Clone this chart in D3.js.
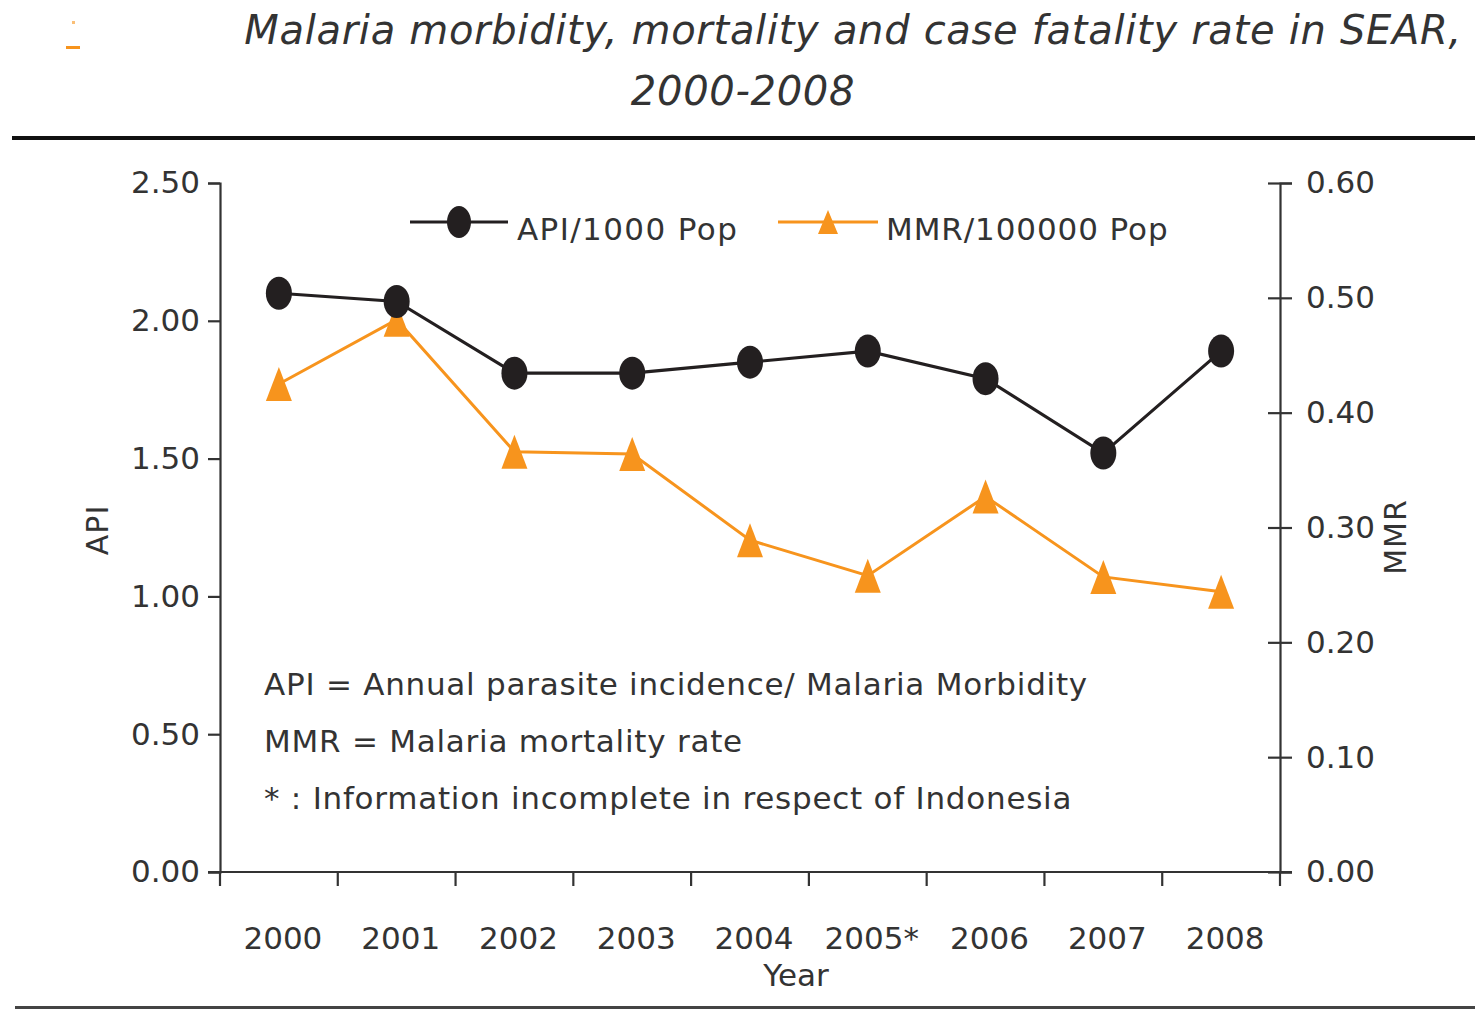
<!DOCTYPE html>
<html><head><meta charset="utf-8">
<script src="https://cdn.jsdelivr.net/npm/d3@7"></script>
<style>
html,body{margin:0;padding:0;background:#fff;}
svg{display:block;font-family:"DejaVu Sans",Verdana,sans-serif;}
</style></head>
<body>
<script>
// ---- data ----
const years = ["2000","2001","2002","2003","2004","2005*","2006","2007","2008"];
const apiValues = [2.10, 2.07, 1.81, 1.81, 1.85, 1.89, 1.79, 1.52, 1.89];
const mmrValues = [0.425, 0.481, 0.366, 0.364, 0.289, 0.258, 0.327, 0.257, 0.244];
const apiTicks = [0, 0.5, 1.0, 1.5, 2.0, 2.5];
const mmrTicks = [0, 0.1, 0.2, 0.3, 0.4, 0.5, 0.6];
const titleLines = ["Malaria morbidity, mortality and case fatality rate in SEAR,", "2000-2008"];
const notes = ["API = Annual parasite incidence/ Malaria Morbidity", "MMR = Malaria mortality rate", "* : Information incomplete in respect of Indonesia"];
const seriesNames = ["API/1000 Pop", "MMR/100000 Pop"];

const W = 1480, H = 1011;
const BLACK = "#231f20", ORANGE = "#f7941d", TEXT = "#333333";
const svg = d3.select("body").append("svg").attr("width", W).attr("height", H);

const L = 220, R = 1280, T = 183, B = 872;
const x = d3.scaleBand().domain(years).range([L, R]);
const xc = d => x(d) + x.bandwidth() / 2;
const yL = d3.scaleLinear().domain([0, 2.5]).range([B, T]);
const yR = d3.scaleLinear().domain([0, 0.6]).range([B, T]);

// stray orange marks top-left
svg.append("rect").attr("x", 66).attr("y", 46).attr("width", 14).attr("height", 3).attr("fill", ORANGE);
svg.append("rect").attr("x", 72).attr("y", 21).attr("width", 3).attr("height", 3).attr("fill", ORANGE).attr("opacity", 0.6);

// title
svg.append("text").attr("x", 1462).attr("y", 44).attr("text-anchor", "end")
  .attr("font-style", "italic").attr("font-size", 40).attr("letter-spacing", 0.7).attr("fill", TEXT).text(titleLines[0]);
svg.append("text").attr("x", 743).attr("y", 105).attr("text-anchor", "middle")
  .attr("font-style", "italic").attr("font-size", 40).attr("letter-spacing", 0.7).attr("fill", TEXT).text(titleLines[1]);

// rules
svg.append("rect").attr("x", 12).attr("y", 136).attr("width", 1463).attr("height", 4).attr("fill", "#111");
svg.append("rect").attr("x", 15).attr("y", 1006).attr("width", 1460).attr("height", 3).attr("fill", "#444");

// axes
const axL = svg.append("g").attr("transform", `translate(${L},0)`)
  .call(d3.axisLeft(yL).tickValues(apiTicks).tickFormat(d3.format(".2f")).tickSize(12).tickPadding(8));
const axR = svg.append("g").attr("transform", `translate(${R},0)`)
  .call(d3.axisRight(yR).tickValues(mmrTicks).tickFormat(d3.format(".2f")).tickSize(12).tickPadding(14));
axR.selectAll(".tick line").attr("x1", -12);
const axB = svg.append("g").attr("transform", `translate(0,${B})`)
  .call(d3.axisBottom(x).tickSize(0).tickPadding(55));
// boundary ticks on x axis
const bounds = years.map(d => x(d)).concat([R]);
axB.selectAll(".bt").data(bounds).enter().append("line").attr("class", "bt")
  .attr("x1", d => d).attr("x2", d => d).attr("y1", 0).attr("y2", 14);
axB.select(".domain").attr("d", `M${L - 12},0H${R + 12}`);

[axL, axR, axB].forEach(g => {
  g.selectAll("path,line").attr("stroke", "#333").attr("stroke-width", 2.2);
  g.selectAll("text").attr("font-size", 31).attr("fill", TEXT).attr("font-family", '"DejaVu Sans",Verdana,sans-serif');
});
axB.selectAll(".tick text").attr("dx", 4);

// axis titles
svg.append("text").attr("transform", "translate(108,530) rotate(-90)").attr("text-anchor", "middle")
  .attr("font-size", 30).attr("letter-spacing", 1).attr("fill", TEXT).text("API");
svg.append("text").attr("transform", "translate(1406,537) rotate(-90)").attr("text-anchor", "middle")
  .attr("font-size", 30).attr("letter-spacing", 1).attr("fill", TEXT).text("MMR");
svg.append("text").attr("x", 796).attr("y", 986).attr("text-anchor", "middle")
  .attr("font-size", 31).attr("fill", TEXT).text("Year");

// lines
const lineL = d3.line().x((d, i) => xc(years[i])).y(d => yL(d));
const lineR = d3.line().x((d, i) => xc(years[i])).y(d => yR(d));
svg.append("path").attr("d", lineR(mmrValues)).attr("fill", "none").attr("stroke", ORANGE).attr("stroke-width", 3);
svg.append("path").attr("d", lineL(apiValues)).attr("fill", "none").attr("stroke", BLACK).attr("stroke-width", 3.2);

const tri = "M0,-17L13,17L-13,17Z";
svg.selectAll(".tri").data(mmrValues).enter().append("path").attr("class", "tri")
  .attr("d", tri).attr("transform", (d, i) => `translate(${xc(years[i])},${yR(d)})`).attr("fill", ORANGE);
svg.selectAll(".dot").data(apiValues).enter().append("ellipse").attr("class", "dot")
  .attr("cx", (d, i) => xc(years[i])).attr("cy", d => yL(d)).attr("rx", 13).attr("ry", 16.5).attr("fill", BLACK);

// legend
const lg = svg.append("g");
lg.append("line").attr("x1", 410).attr("x2", 508).attr("y1", 222).attr("y2", 222).attr("stroke", BLACK).attr("stroke-width", 3.2);
lg.append("ellipse").attr("cx", 459).attr("cy", 222).attr("rx", 12).attr("ry", 16).attr("fill", BLACK);
lg.append("text").attr("x", 517).attr("y", 240).attr("font-size", 31).attr("letter-spacing", 1.4).attr("fill", TEXT).text(seriesNames[0]);
lg.append("line").attr("x1", 778).attr("x2", 878).attr("y1", 222).attr("y2", 222).attr("stroke", ORANGE).attr("stroke-width", 3);
lg.append("path").attr("d", "M0,-12L10,12L-10,12Z").attr("transform", "translate(828,222)").attr("fill", ORANGE);
lg.append("text").attr("x", 886).attr("y", 240).attr("font-size", 31).attr("letter-spacing", 0.9).attr("fill", TEXT).text(seriesNames[1]);

// notes
notes.forEach((t, i) => {
  svg.append("text").attr("x", 264).attr("y", 695 + i * 57).attr("font-size", 31).attr("letter-spacing", 0.75).attr("fill", TEXT).text(t);
});
</script>
</body></html>
